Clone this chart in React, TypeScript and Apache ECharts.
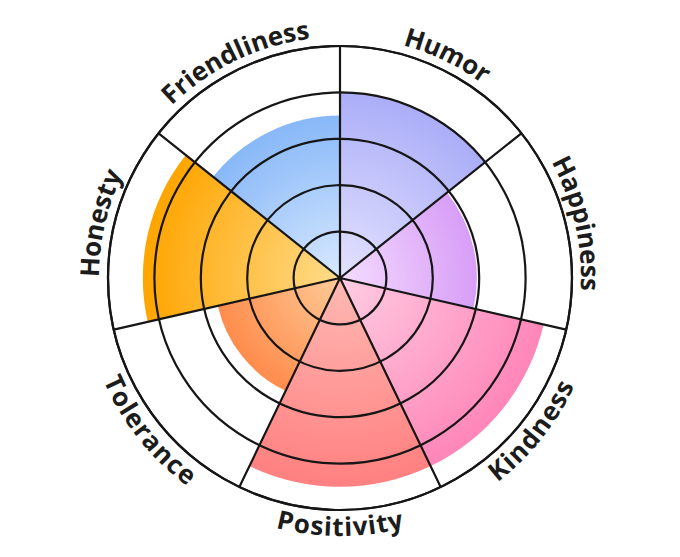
import React, { useEffect, useRef } from "react";
import * as echarts from "echarts";

const categories = ["Humor", "Happiness", "Kindness", "Positivity", "Tolerance", "Honesty", "Friendliness"];
const values = [4, 2.95, 4.5, 4.5, 2.7, 4.25, 3.5];
const innerColors = ["#E4E2FF", "#F4DCFF", "#FFCDE3", "#FFB9B4", "#FFCB98", "#FFDC8C", "#D8E9FF"];
const outerColors = ["#ABAEF8", "#D89EF7", "#FF86B8", "#FF8080", "#FF8C4C", "#FFA500", "#88B8F8"];
const radiusMax = 5;
const radiusStep = 1;

const WIDTH = 680;
const HEIGHT = 557;
const CX = 340;
const CY = 278;
const RADIUS = 232;
const FONT = 'bold 26px "Open Sans"';
const LETTER_SPACING = 0.5;

function buildLabels() {
  const canvas = document.createElement("canvas");
  const ctx = canvas.getContext("2d")!;
  ctx.font = FONT;
  const els: any[] = [];
  const n = categories.length;
  categories.forEach((name, i) => {
    const thetaC = ((90 - (i + 0.5) * (360 / n)) * Math.PI) / 180;
    const upper = Math.sin(thetaC) >= -0.05;
    const rMid = upper ? RADIUS + 19 : RADIUS + 16;
    const chars = name.split("");
    const widths = chars.map((c) => ctx.measureText(c).width);
    const total = widths.reduce((a, b) => a + b, 0) + LETTER_SPACING * (chars.length - 1);
    let s = 0;
    chars.forEach((ch, k) => {
      const center = s + widths[k] / 2;
      s += widths[k] + LETTER_SPACING;
      const offset = (total / 2 - center) / rMid;
      const theta = upper ? thetaC + offset : thetaC - offset;
      const x = CX + rMid * Math.cos(theta);
      const y = CY - rMid * Math.sin(theta);
      const rotation = upper ? theta - Math.PI / 2 : theta + Math.PI / 2;
      els.push({
        type: "text",
        x,
        y,
        rotation,
        z: 100,
        style: {
          text: ch,
          font: FONT,
          fill: "#1c1c1c",
          align: "center",
          verticalAlign: "middle",
          textAlign: "center",
          textVerticalAlign: "middle",
        },
      });
    });
  });
  return els;
}

export default function App() {
  const ref = useRef<HTMLDivElement>(null);
  useEffect(() => {
    if (!ref.current) return;
    const chart = echarts.init(ref.current, null, { renderer: "svg" });
    const unit = RADIUS / radiusMax;
    const data = values.map((v, i) => ({
      value: v,
      itemStyle: {
        color: new echarts.graphic.RadialGradient(
          CX,
          CY,
          v * unit,
          [
            { offset: 0, color: innerColors[i] },
            { offset: 1, color: outerColors[i] },
          ],
          true
        ),
      },
    }));
    chart.setOption({
      animation: false,
      backgroundColor: "#ffffff",
      polar: { center: [CX, CY], radius: RADIUS },
      angleAxis: {
        type: "category",
        data: categories,
        startAngle: 90,
        clockwise: true,
        z: 10,
        axisLine: { show: true, lineStyle: { color: "#161616", width: 2.2 } },
        axisTick: { show: false },
        axisLabel: { show: false },
        splitLine: { show: true, lineStyle: { color: "#161616", width: 2.2 } },
      },
      radiusAxis: {
        type: "value",
        min: 0,
        max: radiusMax,
        interval: radiusStep,
        z: 10,
        axisLine: { show: false },
        axisTick: { show: false },
        axisLabel: { show: false },
        splitLine: { show: true, lineStyle: { color: "#161616", width: 2.2 } },
      },
      series: [
        {
          type: "bar",
          coordinateSystem: "polar",
          barCategoryGap: "0%",
          data,
          z: 2,
        },
      ],
      graphic: buildLabels(),
    });
    return () => chart.dispose();
  }, []);
  return (
    <div
      ref={ref}
      style={{ position: "absolute", left: 0, top: 0, width: WIDTH, height: HEIGHT, background: "#fff" }}
    />
  );
}
